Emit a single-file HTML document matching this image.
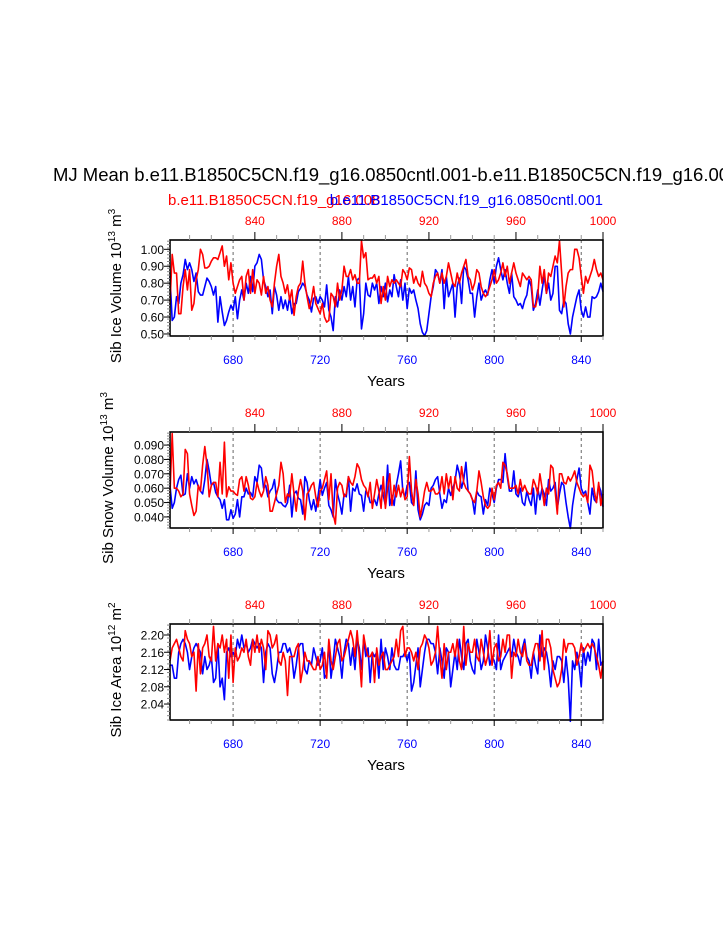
<!DOCTYPE html>
<html><head><meta charset="utf-8"><style>
html,body{margin:0;padding:0;background:#fff;}
svg{display:block;font-family:"Liberation Sans",Arial,sans-serif;}
</style></head><body>
<svg id="chart" width="723" height="935" viewBox="0 0 723 935" xmlns="http://www.w3.org/2000/svg">
<text x="53" y="181" font-size="18.5" fill="#000">MJ Mean b.e11.B1850C5CN.f19_g16.0850cntl.001-b.e11.B1850C5CN.f19_g16.00</text>
<text x="168" y="205" font-size="15" fill="#ff0000">b.e11.B1850C5CN.f19_g16.008</text>
<text x="603" y="205" font-size="15" fill="#0000ff" text-anchor="end">b.e11.B1850C5CN.f19_g16.0850cntl.001</text>
</svg>
<script>
const yearsStart = 651; // x axis = bottom (blue) years, 200 points
const topOffset = 150;  // top (red) year = bottom year + 150
const bottomTicks = [680,720,760,800,840];
const topTicks = [840,880,920,960,1000];

const iceVolBlue = [0.84,0.58,0.60,0.72,0.68,0.80,0.85,0.94,0.88,0.92,0.88,0.81,0.86,0.75,0.73,0.73,0.78,0.83,0.81,0.78,0.73,0.78,0.57,0.72,0.63,0.55,0.58,0.63,0.67,0.64,0.72,0.59,0.70,0.76,0.70,0.80,0.74,0.84,0.75,0.90,0.92,0.97,0.94,0.82,0.78,0.72,0.76,0.62,0.78,0.73,0.64,0.72,0.65,0.70,0.64,0.72,0.62,0.68,0.68,0.75,0.77,0.80,0.78,0.73,0.70,0.63,0.71,0.72,0.68,0.72,0.70,0.66,0.79,0.64,0.60,0.52,0.72,0.66,0.76,0.70,0.78,0.72,0.84,0.70,0.78,0.66,0.82,0.83,0.53,0.62,0.80,0.73,0.72,0.80,0.76,0.80,0.68,0.78,0.72,0.80,0.69,0.76,0.72,0.85,0.78,0.72,0.82,0.70,0.80,0.65,0.77,0.74,0.76,0.70,0.65,0.56,0.51,0.49,0.52,0.62,0.72,0.78,0.88,0.86,0.80,0.88,0.65,0.84,0.72,0.76,0.80,0.60,0.78,0.83,0.68,0.90,0.88,0.82,0.74,0.74,0.60,0.72,0.80,0.70,0.74,0.76,0.73,0.82,0.88,0.80,0.90,0.95,0.88,0.82,0.88,0.80,0.74,0.86,0.72,0.70,0.67,0.68,0.65,0.70,0.73,0.82,0.78,0.64,0.68,0.76,0.67,0.76,0.84,0.74,0.80,0.70,0.74,0.90,0.90,0.64,0.62,0.70,0.68,0.56,0.50,0.60,0.66,0.72,0.76,0.64,0.60,0.66,0.60,0.60,0.72,0.71,0.72,0.75,0.80,0.75];
const iceVolRed = [0.68,0.97,0.86,0.86,0.62,0.62,0.78,0.88,0.76,0.88,0.64,0.68,0.82,0.88,1.00,0.97,0.89,0.89,0.90,0.93,0.95,0.95,0.94,0.98,1.02,0.90,0.96,0.82,0.92,0.80,0.74,0.78,0.82,0.84,0.70,0.84,0.88,0.74,0.88,0.74,0.82,0.80,0.73,0.84,0.74,0.78,0.70,0.66,0.80,0.90,0.97,0.84,0.80,0.74,0.79,0.70,0.76,0.61,0.72,0.78,0.80,0.93,0.80,0.72,0.65,0.70,0.78,0.68,0.65,0.62,0.68,0.60,0.57,0.58,0.74,0.72,0.66,0.80,0.70,0.76,0.90,0.84,0.84,0.88,0.82,0.85,0.80,0.80,1.05,0.95,0.98,0.82,0.83,0.83,0.85,0.80,0.84,0.68,0.78,0.70,0.84,0.78,0.82,0.80,0.82,0.80,0.78,0.88,0.86,0.82,0.89,0.88,0.80,0.84,0.80,0.78,0.87,0.80,0.78,0.74,0.72,0.80,0.84,0.86,0.80,0.86,0.80,0.84,0.92,0.86,0.80,0.78,0.86,0.80,0.86,0.90,0.94,0.84,0.82,0.76,0.80,0.88,0.86,0.78,0.74,0.72,0.74,0.78,0.82,0.88,0.80,0.82,0.86,0.92,0.84,0.90,0.80,0.86,0.92,0.86,0.82,0.78,0.86,0.84,0.82,0.84,0.82,0.66,0.66,0.72,0.90,0.80,0.88,0.74,0.86,0.84,0.90,0.96,0.92,1.05,0.86,0.66,0.78,0.86,0.88,0.88,1.00,1.00,0.95,0.84,0.74,0.84,0.80,0.84,0.88,0.94,0.88,0.84,0.86,0.82];
// snow volume in units of 1e-3 (x10^13 m^3)
const snowBlueMilli = [62,46,50,60,66,69,55,56,70,60,68,63,66,61,58,56,66,80,72,62,64,57,54,52,46,52,38,38,45,39,42,52,40,54,54,60,56,57,54,68,64,76,74,60,62,54,58,60,66,52,50,50,48,47,50,62,40,56,58,53,52,42,68,64,52,45,52,44,54,66,55,60,64,48,45,40,66,56,50,42,56,54,68,44,60,58,63,56,55,44,58,56,50,50,52,48,56,62,55,48,76,48,55,48,62,70,79,58,54,62,64,50,48,72,45,38,42,48,50,48,60,62,66,68,56,46,52,50,60,55,60,65,76,70,60,66,78,58,56,52,42,58,55,54,42,52,48,60,56,50,60,66,66,64,84,68,58,58,72,56,54,60,50,48,58,52,48,60,42,60,52,60,56,48,66,58,60,64,46,56,64,62,50,40,32,48,58,66,74,60,56,58,50,42,60,52,50,62,58,47];
const snowRedMilli = [56,98,60,60,58,54,56,87,84,56,48,41,44,62,58,76,89,76,54,62,64,64,54,78,56,92,54,61,58,58,56,55,66,68,58,68,62,53,52,54,64,58,54,58,68,62,44,44,50,56,62,78,70,50,56,54,70,56,44,58,66,58,38,56,58,62,64,54,47,58,60,66,72,52,70,42,35,60,64,62,54,56,68,64,62,68,77,74,66,62,60,54,64,46,56,66,58,46,68,46,60,70,48,62,54,62,54,60,52,54,82,58,48,66,56,40,48,58,64,58,58,60,56,56,58,68,56,70,60,68,52,68,60,58,75,64,60,58,56,52,50,58,72,64,54,48,46,48,60,52,62,64,60,78,76,70,60,60,60,62,56,66,58,62,58,56,56,66,62,56,70,60,48,60,56,76,74,58,42,70,70,64,63,68,65,68,72,64,60,56,54,56,50,76,72,58,50,64,48,56];
const areaBlue = [2.13,2.13,2.10,2.10,2.16,2.18,2.19,2.18,2.16,2.12,2.15,2.17,2.18,2.17,2.16,2.11,2.15,2.12,2.13,2.15,2.09,2.10,2.18,2.08,2.10,2.05,2.16,2.17,2.15,2.16,2.15,2.19,2.17,2.20,2.17,2.18,2.16,2.17,2.19,2.18,2.17,2.18,2.17,2.09,2.16,2.18,2.17,2.11,2.09,2.12,2.16,2.16,2.18,2.18,2.16,2.17,2.15,2.10,2.13,2.17,2.18,2.18,2.12,2.11,2.14,2.13,2.17,2.15,2.13,2.14,2.17,2.10,2.11,2.18,2.10,2.14,2.19,2.17,2.15,2.10,2.16,2.19,2.18,2.13,2.17,2.12,2.19,2.17,2.12,2.19,2.15,2.17,2.09,2.16,2.15,2.16,2.10,2.19,2.12,2.17,2.15,2.12,2.17,2.13,2.12,2.12,2.15,2.15,2.16,2.14,2.16,2.07,2.09,2.13,2.17,2.08,2.12,2.16,2.19,2.19,2.18,2.18,2.16,2.11,2.17,2.14,2.10,2.17,2.16,2.08,2.12,2.16,2.12,2.19,2.15,2.12,2.18,2.19,2.14,2.12,2.11,2.19,2.16,2.12,2.14,2.20,2.17,2.13,2.15,2.14,2.12,2.20,2.12,2.14,2.15,2.16,2.17,2.15,2.19,2.16,2.15,2.13,2.17,2.19,2.15,2.14,2.10,2.16,2.13,2.11,2.20,2.15,2.17,2.16,2.13,2.08,2.14,2.12,2.15,2.15,2.14,2.09,2.15,2.10,2.00,2.14,2.12,2.16,2.13,2.08,2.17,2.13,2.16,2.14,2.19,2.18,2.12,2.19,2.13,2.14];
const areaRed = [2.14,2.17,2.18,2.19,2.17,2.15,2.14,2.21,2.19,2.18,2.15,2.16,2.07,2.18,2.11,2.17,2.18,2.20,2.15,2.14,2.22,2.14,2.18,2.17,2.20,2.16,2.19,2.10,2.20,2.09,2.17,2.14,2.15,2.17,2.16,2.19,2.15,2.13,2.19,2.16,2.20,2.16,2.19,2.17,2.12,2.21,2.20,2.17,2.18,2.20,2.14,2.13,2.16,2.14,2.06,2.15,2.15,2.15,2.17,2.18,2.09,2.12,2.16,2.14,2.14,2.13,2.12,2.12,2.15,2.12,2.13,2.16,2.10,2.19,2.14,2.12,2.15,2.18,2.19,2.14,2.15,2.17,2.19,2.21,2.19,2.15,2.21,2.15,2.08,2.20,2.17,2.15,2.15,2.16,2.09,2.17,2.13,2.15,2.16,2.12,2.12,2.13,2.14,2.15,2.19,2.15,2.21,2.22,2.15,2.17,2.17,2.16,2.14,2.16,2.12,2.17,2.18,2.20,2.19,2.17,2.13,2.14,2.16,2.22,2.15,2.10,2.18,2.12,2.16,2.16,2.18,2.15,2.19,2.14,2.12,2.22,2.13,2.18,2.16,2.16,2.19,2.15,2.14,2.19,2.16,2.13,2.15,2.21,2.13,2.17,2.18,2.14,2.15,2.19,2.16,2.20,2.20,2.10,2.16,2.15,2.19,2.16,2.15,2.18,2.14,2.13,2.13,2.16,2.18,2.18,2.14,2.21,2.12,2.19,2.19,2.17,2.12,2.10,2.08,2.09,2.12,2.19,2.16,2.18,2.18,2.18,2.17,2.13,2.15,2.18,2.16,2.17,2.18,2.17,2.18,2.17,2.15,2.13,2.10,2.14];

const ticksVol = ["0.50","0.60","0.70","0.80","0.90","1.00"];
const ticksSnow = ["0.040","0.050","0.060","0.070","0.080","0.090"];
const ticksArea = ["2.04","2.08","2.12","2.16","2.20"];

const NS="http://www.w3.org/2000/svg";
const svg=document.getElementById('chart');
function mk(tag,attrs,parent){const e=document.createElementNS(NS,tag);for(const k in attrs)e.setAttribute(k,attrs[k]);(parent||svg).appendChild(e);return e;}

const X0=170,X1=603, Ymin=651, Ymax=850;
function xs(year){return X0+(year-Ymin)/(Ymax-Ymin)*(X1-X0);}

function panel(cfg){
  const g=mk('g',{});
  
  
  const ys=v=>cfg.bot-(v-cfg.vmin)/(cfg.vmax-cfg.vmin)*(cfg.bot-cfg.top);
  bottomTicks.forEach(t=>{
    const l=mk('line',{x1:xs(t),x2:xs(t),y1:cfg.top,y2:cfg.bot,stroke:'#666','stroke-width':1,'stroke-dasharray':'3,3'},g);
    
    
  });
  [[cfg.blue,'#0000ff','blue-series'],[cfg.red,'#ff0000','red-series']].forEach(([arr,col,nm])=>{
    const pts=arr.map((v,i)=>xs(yearsStart+i).toFixed(2)+','+ys(v*cfg.scale).toFixed(2)).join(' ');
    const p=mk('polyline',{points:pts,fill:'none',stroke:col,'stroke-width':1.6,'stroke-linejoin':'round'},g);
    
    
  });
  mk('rect',{x:X0,y:cfg.top,width:X1-X0,height:cfg.bot-cfg.top,fill:'none',stroke:'#000','stroke-width':1.6},g);
  for(let y=660;y<=850;y+=10){
    const maj=bottomTicks.includes(y);
    mk('line',{x1:xs(y),x2:xs(y),y1:cfg.bot,y2:cfg.bot+(maj?6:4),stroke:maj?'#000':'#999','stroke-width':1},g);
  }
  bottomTicks.forEach(t=>{
    const tx=mk('text',{x:xs(t),y:cfg.bot+28,'font-size':12,fill:'#0000ff','text-anchor':'middle'},g);
    tx.textContent=t;
    
    
  });
  for(let ty=810;ty<=1000;ty+=10){
    const x=xs(ty-topOffset); if(x<X0-0.5||x>X1+0.5) continue;
    const maj=topTicks.includes(ty);
    mk('line',{x1:x,x2:x,y1:cfg.top,y2:cfg.top-(maj?8:5),stroke:maj?'#000':'#999','stroke-width':1},g);
  }
  topTicks.forEach(t=>{
    const tx=mk('text',{x:xs(t-topOffset),y:cfg.top-15,'font-size':12,fill:'#ff0000','text-anchor':'middle'},g);
    tx.textContent=t;
    
    
  });
  for(let v=cfg.vmin;v<=cfg.vmax+1e-9;v+=cfg.minor){
    mk('line',{x1:X0,x2:X0-3,y1:ys(v),y2:ys(v),stroke:'#888','stroke-width':1},g);
  }
  cfg.ticks.forEach(t=>{
    const y=ys(parseFloat(t));
    mk('line',{x1:X0,x2:X0-6,y1:y,y2:y,stroke:'#000','stroke-width':1},g);
    const tx=mk('text',{x:X0-6,y:y+4.5,'font-size':12,fill:'#000','text-anchor':'end'},g);
    tx.textContent=t;
    
    
  });
  const xt=mk('text',{x:386,y:cfg.bot+50,'font-size':15,fill:'#000','text-anchor':'middle'},g);
  xt.textContent='Years';
  
  
  const cy=(cfg.top+cfg.bot)/2-2;
  const yt=mk('text',{transform:`translate(${cfg.ytx},${cy}) rotate(-90)`,'font-size':15,fill:'#000','text-anchor':'middle'},g);
  yt.innerHTML=cfg.ytitle+' 10<tspan dy="-6" font-size="10">'+cfg.exp+'</tspan><tspan dy="6"> m</tspan><tspan dy="-6" font-size="10">'+cfg.unitExp+'</tspan>';
  
  
}

panel({name:'ice-volume-panel',top:240,bot:336,vmin:0.488,vmax:1.055,minor:0.02,scale:1,blue:iceVolBlue,red:iceVolRed,ticks:ticksVol,ytitle:'Sib Ice Volume',exp:'13',unitExp:'3',ytx:121});
panel({name:'snow-volume-panel',top:432,bot:528,vmin:0.0323,vmax:0.0991,minor:0.002,scale:0.001,blue:snowBlueMilli,red:snowRedMilli,ticks:ticksSnow,ytitle:'Sib Snow Volume',exp:'13',unitExp:'3',ytx:113});
panel({name:'ice-area-panel',top:624,bot:720,vmin:2.003,vmax:2.2255,minor:0.01,scale:1,blue:areaBlue,red:areaRed,ticks:ticksArea,ytitle:'Sib Ice Area',exp:'12',unitExp:'2',ytx:121});
</script>
</body></html>
